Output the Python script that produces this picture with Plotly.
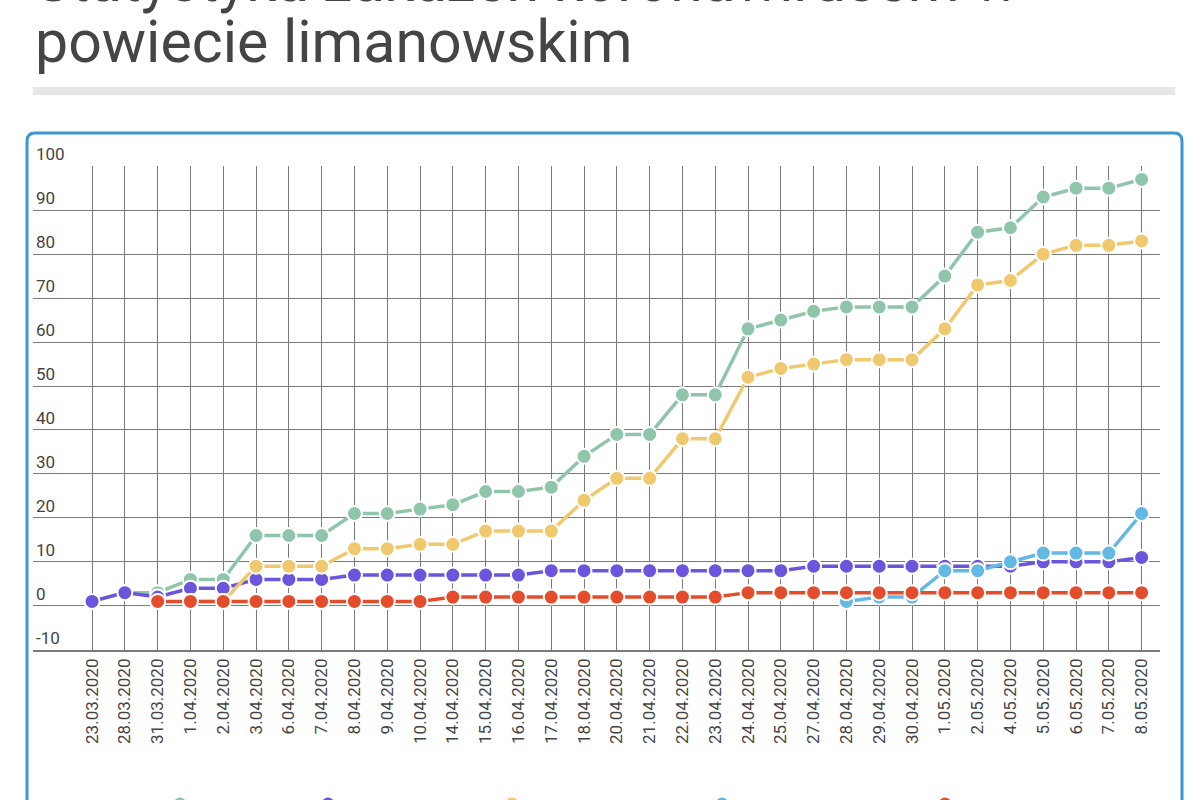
import plotly.graph_objects as go

dates = ["23.03.2020", "28.03.2020", "31.03.2020", "1.04.2020", "2.04.2020", "3.04.2020",
         "6.04.2020", "7.04.2020", "8.04.2020", "9.04.2020", "10.04.2020", "14.04.2020",
         "15.04.2020", "16.04.2020", "17.04.2020", "18.04.2020", "20.04.2020", "21.04.2020",
         "22.04.2020", "23.04.2020", "24.04.2020", "25.04.2020", "27.04.2020", "28.04.2020",
         "29.04.2020", "30.04.2020", "1.05.2020", "2.05.2020", "4.05.2020", "5.05.2020",
         "6.05.2020", "7.05.2020", "8.05.2020"]

zakazeni = [1, 3, 3, 6, 6, 16, 16, 16, 21, 21, 22, 23, 26, 26, 27, 34, 39, 39, 48, 48,
            63, 65, 67, 68, 68, 68, 75, 85, 86, 93, 95, 95, 97]
wyleczeni = [1, 3, 2, 4, 4, 6, 6, 6, 7, 7, 7, 7, 7, 7, 8, 8, 8, 8, 8, 8,
             8, 8, 9, 9, 9, 9, 9, 9, 9, 10, 10, 10, 11]
chorzy = [None, None, None, 1, 1, 9, 9, 9, 13, 13, 14, 14, 17, 17, 17, 24, 29, 29, 38, 38,
          52, 54, 55, 56, 56, 56, 63, 73, 74, 80, 82, 82, 83]
hospitalizowani = [None] * 23 + [1, 2, 2, 8, 8, 10, 12, 12, 12, 21]
zgony = [None, None, 1, 1, 1, 1, 1, 1, 1, 1, 1, 2, 2, 2, 2, 2, 2, 2, 2, 2,
         3, 3, 3, 3, 3, 3, 3, 3, 3, 3, 3, 3, 3]

series_names = ["Zakażeni", "Wyleczeni", "Chorzy", "Hospitalizowani", "Zgony"]
series_values = [zakazeni, wyleczeni, chorzy, hospitalizowani, zgony]
colors = ["#8fc6ab", "#6b55dc", "#f0c86e", "#63b8e4", "#e44d2b"]
legend_px = [180, 328, 512, 722, 945]

y_ticks = list(range(-10, 101, 10))

W, H = 1200, 800
L, R, T, B = 33, 1160, 166, 650


def px(x):
    return (x - L) / (R - L)


def py(y):
    return (B - y) / (B - T)


xs = list(range(len(dates)))

fig = go.Figure()
for i, (name, vals, col) in enumerate(zip(series_names, series_values, colors)):
    fig.add_trace(go.Scatter(
        x=xs, y=vals, name=name, mode="lines+markers",
        line=dict(color=col, width=3.5),
        marker=dict(size=15, color=col, line=dict(color="white", width=2)),
        legend="legend" if i == 0 else f"legend{i + 1}",
        hoverinfo="skip",
    ))

legends = {}
for i, lx in enumerate(legend_px):
    key = "legend" if i == 0 else f"legend{i + 1}"
    legends[key] = dict(
        orientation="h", x=px(lx - 20), y=py(804), xanchor="left", yanchor="middle",
        font=dict(family="Roboto", size=9, color="#444"),
        bgcolor="rgba(0,0,0,0)", borderwidth=0, tracegroupgap=0,
    )

grid_col = "#7a7a7a"

# rounded blue frame
r = 8
x0, x1, y0, yb = 27, 1182, 133, 830
path = (f"M {px(x0)},{py(yb)} L {px(x0)},{py(y0 + r)} "
        f"Q {px(x0)},{py(y0)} {px(x0 + r)},{py(y0)} "
        f"L {px(x1 - r)},{py(y0)} "
        f"Q {px(x1)},{py(y0)} {px(x1)},{py(y0 + r)} "
        f"L {px(x1)},{py(yb)}")

shapes = [
    dict(type="rect", xref="paper", yref="paper", x0=px(33), x1=px(1175), y0=py(95), y1=py(87),
         fillcolor="#e6e6e6", line=dict(width=0)),
    dict(type="path", xref="paper", yref="paper", path=path,
         line=dict(color="#3d98cf", width=3)),
]

annotations = [
    dict(text="Statystyka zakażeń koronawirusem w", xref="paper", yref="paper",
         x=px(33), y=py(-20), xanchor="left", yanchor="middle", showarrow=False,
         font=dict(family="Roboto", size=59, color="#454545")),
    dict(text="powiecie limanowskim", xref="paper", yref="paper",
         x=px(33), y=py(42), xanchor="left", yanchor="middle", showarrow=False,
         font=dict(family="Roboto", size=59, color="#454545")),
]

fig.update_layout(
    width=W, height=H,
    margin=dict(l=L, r=W - R, t=T, b=H - B, autoexpand=False),
    paper_bgcolor="white", plot_bgcolor="white",
    showlegend=True,
    shapes=shapes, annotations=annotations,
    **legends,
    xaxis=dict(
        range=[-1.8, 32.56], tickmode="array", tickvals=xs, ticktext=dates,
        tickangle=-90, showgrid=True, gridcolor=grid_col, gridwidth=1,
        showline=True, linecolor=grid_col, linewidth=1.5, zeroline=False,
        ticks="", tickfont=dict(family="Roboto", size=17, color="#444"),
        fixedrange=True,
    ),
    yaxis=dict(
        range=[-10.05, 100.05], tickmode="array", tickvals=y_ticks,
        ticktext=[str(v) for v in y_ticks],
        showgrid=True, gridcolor=grid_col, gridwidth=1, zeroline=False,
        showline=False, ticks="", ticklabelposition="inside top",
        ticklabeloverflow="allow",
        tickfont=dict(family="Roboto", size=17, color="#444"),
        fixedrange=True,
    ),
)

fig.write_html("out.html")
